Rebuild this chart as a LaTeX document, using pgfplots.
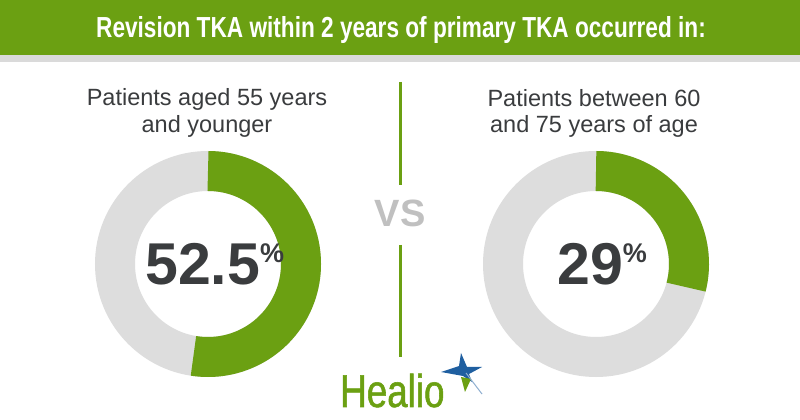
\documentclass[border=0pt]{standalone}
\usepackage{pgfplots}
\pgfplotsset{compat=1.18}
\usepackage{fontspec}
\setmainfont{Liberation Sans}
\newfontfamily\titlefont[FakeStretch=0.78]{Liberation Sans}
\newfontfamily\logofont[FakeStretch=0.8,FakeBold=1.2]{Liberation Sans}

\definecolor{hlgreen}{RGB}{107,160,18}
\definecolor{ringgray}{RGB}{221,221,221}
\definecolor{stripgray}{RGB}{218,218,218}
\definecolor{darktext}{RGB}{58,60,62}
\definecolor{vsgray}{RGB}{192,192,192}
\definecolor{hlblue}{RGB}{31,95,160}

% share of revisions (percent)
\def\valleft{52.5}
\def\valright{29}

\begin{document}
\begin{tikzpicture}
\begin{axis}[
  width=800pt, height=420pt, scale only axis,
  xmin=0, xmax=800, ymin=0, ymax=420,
  hide axis, clip=false
]
  \fill[white] (axis cs:0,0) rectangle (axis cs:800,420);
  % banner
  \fill[hlgreen] (axis cs:0,365) rectangle (axis cs:800,420);
  \fill[stripgray] (axis cs:0,358) rectangle (axis cs:800,365);
  \node[anchor=base, text=white, font=\titlefont\bfseries\fontsize{29}{32}\selectfont]
    at (axis cs:401,382) {Revision TKA within 2 years of primary TKA occurred in:};

  % subtitles
  \node[anchor=base, text=darktext, font=\fontsize{23.5}{27}\selectfont] at (axis cs:207,314) {Patients aged 55 years};
  \node[anchor=base, text=darktext, font=\fontsize{23.5}{27}\selectfont] at (axis cs:207,287) {and younger};
  \node[anchor=base, text=darktext, font=\fontsize{23.5}{27}\selectfont] at (axis cs:594,313) {Patients between 60};
  \node[anchor=base, text=darktext, font=\fontsize{23.5}{27}\selectfont] at (axis cs:594,287) {and 75 years of age};

  % left donut
  \draw[ringgray, line width=40pt] (axis cs:208,156) circle[radius=93];
  \draw[hlgreen, line width=40pt] (axis cs:208,249) arc[start angle=90, end angle={90-3.6*\valleft}, radius=93];
  \node[anchor=base west, text=darktext, inner sep=0pt, font=\bfseries\fontsize{59}{60}\selectfont]
    at (axis cs:145,135) {\valleft\raisebox{22pt}{\fontsize{27}{27}\selectfont\%}};

  % right donut
  \draw[ringgray, line width=40pt] (axis cs:596,156) circle[radius=93];
  \draw[hlgreen, line width=40pt] (axis cs:596,249) arc[start angle=90, end angle={90-3.6*\valright}, radius=93];
  \node[anchor=base west, text=darktext, inner sep=0pt, font=\bfseries\fontsize{59}{60}\selectfont]
    at (axis cs:557,135) {\valright\raisebox{22pt}{\fontsize{27}{27}\selectfont\%}};

  % divider
  \draw[hlgreen, line width=3pt] (axis cs:400,338) -- (axis cs:400,235);
  \draw[hlgreen, line width=3pt] (axis cs:400,175) -- (axis cs:400,63);
  \node[anchor=base, text=vsgray, font=\bfseries\fontsize{38}{40}\selectfont] at (axis cs:400,193) {VS};

  % logo
  \node[anchor=base west, inner sep=0pt, text=hlgreen, font=\logofont\fontsize{46}{48}\selectfont] at (axis cs:340,13) {Healio};
  \fill[hlblue] (axis cs:461,67) -- (axis cs:467,53) -- (axis cs:482,53) -- (axis cs:469,46)
     -- (axis cs:472,38) -- (axis cs:463,44) -- (axis cs:441,48) -- (axis cs:459,54) -- cycle;
  \fill[hlgreen] (axis cs:461,43) -- (axis cs:471,41) -- (axis cs:465,28) -- cycle;
  \draw[hlblue!50, line width=1pt] (axis cs:466,47) -- (axis cs:482,26);
\end{axis}
\end{tikzpicture}
\end{document}
